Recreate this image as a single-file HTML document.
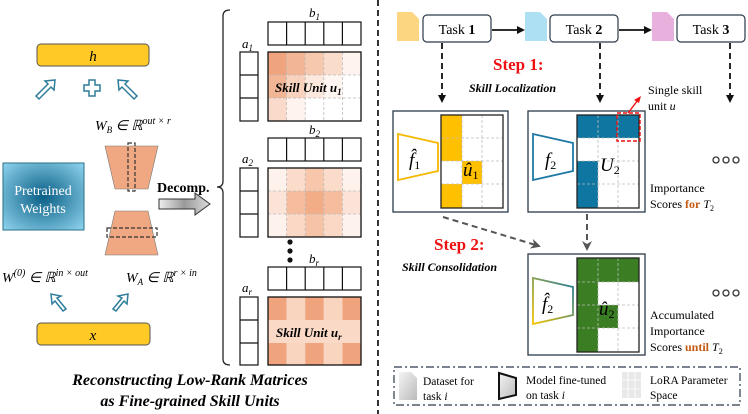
<!DOCTYPE html>
<html><head><meta charset="utf-8"><style>
html,body{margin:0;padding:0;background:#fff;}
svg{display:block;font-family:"Liberation Serif",serif;}
</style></head><body>
<svg width="748" height="414" viewBox="0 0 748 414" xmlns="http://www.w3.org/2000/svg">
<defs>
<radialGradient id="pt" cx="0.5" cy="0.5" r="0.7"><stop offset="0" stop-color="#0a5f86"/><stop offset="1" stop-color="#8fd4ee"/></radialGradient>
<linearGradient id="ga" x1="0" y1="0" x2="1" y2="0"><stop offset="0" stop-color="#eee"/><stop offset="0.5" stop-color="#999"/><stop offset="1" stop-color="#ddd"/></linearGradient>
<linearGradient id="gf" x1="0" y1="1" x2="1" y2="0"><stop offset="0" stop-color="#f5c400"/><stop offset="1" stop-color="#1a7aa0"/></linearGradient>
<linearGradient id="gl" x1="0" y1="0" x2="1" y2="1"><stop offset="0" stop-color="#f4f4f4"/><stop offset="1" stop-color="#bbb"/></linearGradient>
<marker id="ah" markerWidth="8" markerHeight="8" refX="6" refY="4" orient="auto" markerUnits="userSpaceOnUse"><path d="M0,0 L8,4 L0,8 Z" fill="#111"/></marker>
<marker id="ahg" markerWidth="10" markerHeight="10" refX="8" refY="5" orient="auto" markerUnits="userSpaceOnUse"><path d="M0,0 L10,5 L0,10 L3,5 Z" fill="#555"/></marker>
</defs>

<!-- LEFT PANEL -->
<rect x="37" y="44" width="112" height="22" rx="4" fill="#FFC926" stroke="#555" stroke-width="1"/>
<text x="93" y="61" font-size="15" font-style="italic" text-anchor="middle">h</text>
<g fill="#fff" stroke="#2E7D9A" stroke-width="1.5">
<path d="M38,98 L36,96 L48,84 L45,81 L55,80 L54,90 L51,87 L39,99 Z"/>
<path d="M135,98 L137,96 L125,84 L128,81 L118,80 L119,90 L122,87 L134,99 Z"/>
<path d="M84,85 h5 v-5 h6 v5 h5 v6 h-5 v5 h-6 v-5 h-5 Z"/>
<path d="M63,311 L66,309 L57,298 L61,296 L51,294 L52,304 L55,301 L63,311 Z"/>
<path d="M116,311 L113,309 L122,298 L118,296 L128,294 L127,304 L124,301 L116,311 Z"/>
</g>
<text x="95" y="130" font-size="14" font-style="italic">W<tspan font-size="9" dy="3">B</tspan><tspan dy="-3"> ∈ ℝ</tspan><tspan font-size="10" dy="-6">out × r</tspan></text>
<polygon points="105,146 158,146 148,189 115,189" fill="#F0A882" stroke="#777" stroke-width="0.6"/>
<rect x="128" y="143" width="7" height="48" fill="none" stroke="#333" stroke-dasharray="4,2" stroke-width="1.2"/>
<polygon points="115,211 148,211 158,255 105,255" fill="#F0A882" stroke="#777" stroke-width="0.6"/>
<rect x="107" y="228" width="50" height="9" fill="none" stroke="#333" stroke-dasharray="4,2" stroke-width="1.2"/>
<rect x="3" y="163" width="81" height="67" fill="url(#pt)" stroke="#2a6f8a" stroke-width="1"/>
<text x="43" y="195" font-size="14" fill="#fff" text-anchor="middle">Pretrained</text>
<text x="43" y="213" font-size="14" fill="#fff" text-anchor="middle">Weights</text>
<text x="157" y="192" font-size="14" font-weight="bold">Decomp.</text>
<path d="M159,199 h36 v-6 l15,11 l-15,11 v-6 h-36 Z" fill="url(#ga)" stroke="#333" stroke-width="1"/>
<path d="M230,10 q-7,0 -7,6 v165 q0,6 -6,6 q6,0 6,6 v166 q0,6 7,6" fill="none" stroke="#222" stroke-width="1.3"/>
<text x="2" y="282" font-size="14" font-style="italic">W<tspan font-size="10" dy="-6">(0)</tspan><tspan dy="6"> ∈ ℝ</tspan><tspan font-size="10" dy="-6">in × out</tspan></text>
<text x="126" y="282" font-size="14" font-style="italic">W<tspan font-size="9" dy="3">A</tspan><tspan dy="-3"> ∈ ℝ</tspan><tspan font-size="10" dy="-6">r × in</tspan></text>
<rect x="37" y="323" width="113" height="22" rx="4" fill="#FFC926" stroke="#555" stroke-width="1"/>
<text x="93" y="340" font-size="15" font-style="italic" text-anchor="middle">x</text>

<!-- matrices -->
<g stroke="#111" stroke-width="1.2" fill="#fff">
<rect x="268" y="22" width="93" height="23"/><line x1="286.6" y1="22" x2="286.6" y2="45"/><line x1="305.2" y1="22" x2="305.2" y2="45"/><line x1="323.8" y1="22" x2="323.8" y2="45"/><line x1="342.4" y1="22" x2="342.4" y2="45"/>
<rect x="240" y="52" width="18" height="69"/><line x1="240" y1="75" x2="258" y2="75"/><line x1="240" y1="98" x2="258" y2="98"/>
<rect x="268" y="138" width="93" height="23"/><line x1="286.6" y1="138" x2="286.6" y2="161"/><line x1="305.2" y1="138" x2="305.2" y2="161"/><line x1="323.8" y1="138" x2="323.8" y2="161"/><line x1="342.4" y1="138" x2="342.4" y2="161"/>
<rect x="240" y="168" width="18" height="69"/><line x1="240" y1="191" x2="258" y2="191"/><line x1="240" y1="214" x2="258" y2="214"/>
<rect x="268" y="267" width="93" height="23"/><line x1="286.6" y1="267" x2="286.6" y2="290"/><line x1="305.2" y1="267" x2="305.2" y2="290"/><line x1="323.8" y1="267" x2="323.8" y2="290"/><line x1="342.4" y1="267" x2="342.4" y2="290"/>
<rect x="240" y="297" width="18" height="68"/><line x1="240" y1="320" x2="258" y2="320"/><line x1="240" y1="343" x2="258" y2="343"/>
</g>
<g>
<rect x="268" y="52" width="18.6" height="23" fill="#EFA47E"/><rect x="286.6" y="52" width="18.6" height="23" fill="#F2B595"/><rect x="305.2" y="52" width="18.6" height="23" fill="#F6C8AE"/><rect x="323.8" y="52" width="18.6" height="23" fill="#FADCCB"/><rect x="342.4" y="52" width="18.6" height="23" fill="#FEF3EE"/>
<rect x="268" y="75" width="18.6" height="23" fill="#F2B595"/><rect x="286.6" y="75" width="18.6" height="23" fill="#F8D2BD"/><rect x="305.2" y="75" width="18.6" height="23" fill="#FCE8DD"/><rect x="323.8" y="75" width="18.6" height="23" fill="#FFF6F2"/><rect x="342.4" y="75" width="18.6" height="23" fill="#fff"/>
<rect x="268" y="98" width="18.6" height="23" fill="#FADBCB"/><rect x="286.6" y="98" width="18.6" height="23" fill="#FEF3EE"/><rect x="305.2" y="98" width="55.8" height="23" fill="#fff"/>
</g>
<g>
<rect x="268" y="168" width="18.6" height="23" fill="#FEF2EC"/><rect x="286.6" y="168" width="18.6" height="23" fill="#FBDCCB"/><rect x="305.2" y="168" width="18.6" height="23" fill="#F7C6AB"/><rect x="323.8" y="168" width="18.6" height="23" fill="#FBDCCB"/><rect x="342.4" y="168" width="18.6" height="23" fill="#FEF2EC"/>
<rect x="268" y="191" width="18.6" height="23" fill="#FBE4D7"/><rect x="286.6" y="191" width="18.6" height="23" fill="#F5BD9E"/><rect x="305.2" y="191" width="18.6" height="23" fill="#F2AC86"/><rect x="323.8" y="191" width="18.6" height="23" fill="#F5BD9E"/><rect x="342.4" y="191" width="18.6" height="23" fill="#FBE4D7"/>
<rect x="268" y="214" width="18.6" height="23" fill="#FEF2EC"/><rect x="286.6" y="214" width="18.6" height="23" fill="#FAD8C5"/><rect x="305.2" y="214" width="18.6" height="23" fill="#F6C3A6"/><rect x="323.8" y="214" width="18.6" height="23" fill="#FAD8C5"/><rect x="342.4" y="214" width="18.6" height="23" fill="#FEF2EC"/>
</g>
<g>
<rect x="268" y="297" width="18.6" height="23" fill="#EFA47E"/><rect x="286.6" y="297" width="18.6" height="23" fill="#F9D4BF"/><rect x="305.2" y="297" width="18.6" height="23" fill="#EFA47E"/><rect x="323.8" y="297" width="18.6" height="23" fill="#F9D4BF"/><rect x="342.4" y="297" width="18.6" height="23" fill="#EFA47E"/>
<rect x="268" y="320" width="93" height="23" fill="#FAD9C6"/>
<rect x="268" y="343" width="18.6" height="22" fill="#EFA47E"/><rect x="286.6" y="343" width="18.6" height="22" fill="#F9D4BF"/><rect x="305.2" y="343" width="18.6" height="22" fill="#EFA47E"/><rect x="323.8" y="343" width="18.6" height="22" fill="#F9D4BF"/><rect x="342.4" y="343" width="18.6" height="22" fill="#EFA47E"/>
</g>
<g stroke="#bbb" stroke-width="0.8" stroke-dasharray="3,2">
<line x1="286.6" y1="52" x2="286.6" y2="121"/><line x1="305.2" y1="52" x2="305.2" y2="121"/><line x1="323.8" y1="52" x2="323.8" y2="121"/><line x1="342.4" y1="52" x2="342.4" y2="121"/><line x1="268" y1="75" x2="361" y2="75"/><line x1="268" y1="98" x2="361" y2="98"/>
<line x1="286.6" y1="168" x2="286.6" y2="237"/><line x1="305.2" y1="168" x2="305.2" y2="237"/><line x1="323.8" y1="168" x2="323.8" y2="237"/><line x1="342.4" y1="168" x2="342.4" y2="237"/><line x1="268" y1="191" x2="361" y2="191"/><line x1="268" y1="214" x2="361" y2="214"/>
</g>
<g fill="none" stroke="#111" stroke-width="1.3">
<rect x="268" y="52" width="93" height="69"/><rect x="268" y="168" width="93" height="69"/><rect x="268" y="297" width="93" height="68"/>
</g>
<g font-size="13" font-style="italic" font-weight="bold">
<text x="275" y="92">Skill Unit u<tspan font-size="9" dy="3">1</tspan></text>
<text x="276" y="337">Skill Unit u<tspan font-size="9" dy="3">r</tspan></text>
</g>
<g font-size="13" font-style="italic">
<text x="309" y="17">b<tspan font-size="9" dy="3">1</tspan></text>
<text x="242" y="48">a<tspan font-size="9" dy="3">1</tspan></text>
<text x="309" y="134">b<tspan font-size="9" dy="3">2</tspan></text>
<text x="242" y="163">a<tspan font-size="9" dy="3">2</tspan></text>
<text x="309" y="263">b<tspan font-size="9" dy="3">r</tspan></text>
<text x="242" y="292">a<tspan font-size="9" dy="3">r</tspan></text>
</g>
<circle cx="290" cy="242" r="2.6" fill="#111"/><circle cx="290" cy="251" r="2.6" fill="#111"/><circle cx="290" cy="260" r="2.6" fill="#111"/>
<g font-size="16" font-style="italic" font-weight="bold" text-anchor="middle">
<text x="190" y="385">Reconstructing Low-Rank Matrices</text>
<text x="190" y="406">as Fine-grained Skill Units</text>
</g>
<line x1="378" y1="0" x2="378" y2="414" stroke="#333" stroke-width="2" stroke-dasharray="6,4"/>

<!-- RIGHT PANEL -->
<path d="M397,12 h15 l7,7 v22 h-22 Z" fill="#FCD680"/>
<path d="M525,12 h15 l7,7 v22 h-22 Z" fill="#AEE0F4"/>
<path d="M652,12 h15 l7,7 v22 h-22 Z" fill="#E8B0DC"/>
<g fill="#fff" stroke="#2b3a4a" stroke-width="1.2">
<rect x="423" y="15" width="68" height="27" rx="4"/><rect x="550" y="15" width="68" height="27" rx="4"/><rect x="677" y="15" width="68" height="27" rx="4"/>
</g>
<g font-size="14" text-anchor="middle">
<text x="457" y="34">Task <tspan font-weight="bold">1</tspan></text>
<text x="584" y="34">Task <tspan font-weight="bold">2</tspan></text>
<text x="711" y="34">Task <tspan font-weight="bold">3</tspan></text>
</g>
<g stroke="#111" stroke-width="1.8" marker-end="url(#ah)">
<line x1="492" y1="30" x2="523" y2="30"/><line x1="619" y1="30" x2="650" y2="30"/>
</g>
<g stroke="#111" stroke-width="1.8" stroke-dasharray="6,4" marker-end="url(#ah)">
<line x1="442" y1="43" x2="442" y2="101"/><line x1="600" y1="43" x2="600" y2="101"/><line x1="730" y1="43" x2="730" y2="101"/>
</g>
<text x="493" y="70" font-size="17" font-weight="bold" fill="#EE1111">Step 1:</text>
<text x="469" y="92" font-size="12" font-weight="bold" font-style="italic">Skill Localization</text>
<text x="648" y="94" font-size="12">Single skill</text>
<text x="648" y="110" font-size="12">unit <tspan font-style="italic">u</tspan></text>

<!-- box1 -->
<rect x="393" y="111" width="115" height="101" fill="#fff" stroke="#2b3a4a" stroke-width="1.3"/>
<rect x="441" y="115" width="21" height="46" fill="#FFC000"/><rect x="441" y="184" width="21" height="24" fill="#FFC000"/><rect x="462" y="161" width="20" height="23" fill="#FFC000"/>
<g stroke="#bbb" stroke-dasharray="3,2" stroke-width="0.8"><line x1="462" y1="115" x2="462" y2="208"/><line x1="482" y1="115" x2="482" y2="208"/><line x1="441" y1="138" x2="503" y2="138"/><line x1="441" y1="161" x2="503" y2="161"/><line x1="441" y1="184" x2="503" y2="184"/></g>
<rect x="441" y="115" width="62" height="93" fill="none" stroke="#222" stroke-width="1.3"/>
<polygon points="398,134 438,143 438,171 398,180" fill="#fff" stroke="#F5B800" stroke-width="1.8"/>
<text x="409" y="166" font-size="19" font-style="italic">f̂<tspan font-size="12" font-style="normal" dy="3">1</tspan></text>
<text x="463" y="176" font-size="19" font-style="italic">û<tspan font-size="12" font-style="normal" dy="3">1</tspan></text>

<!-- box2 -->
<rect x="528" y="111" width="117" height="101" fill="#fff" stroke="#2b3a4a" stroke-width="1.3"/>
<rect x="577" y="115" width="62" height="23" fill="#0E76A0"/><rect x="577" y="161" width="21" height="47" fill="#0E76A0"/>
<g stroke="#bbb" stroke-dasharray="3,2" stroke-width="0.8"><line x1="598" y1="115" x2="598" y2="208"/><line x1="618" y1="115" x2="618" y2="208"/><line x1="577" y1="138" x2="639" y2="138"/><line x1="577" y1="161" x2="639" y2="161"/><line x1="577" y1="184" x2="639" y2="184"/></g>
<rect x="577" y="115" width="62" height="93" fill="none" stroke="#222" stroke-width="1.3"/>
<rect x="617" y="113" width="23" height="28" fill="none" stroke="#EE1111" stroke-width="1.4" stroke-dasharray="4,2"/>
<line x1="628" y1="113" x2="638" y2="100" stroke="#EE1111" stroke-width="1.4"/><path d="M641,96 L634,100 L639,103 Z" fill="#EE1111"/>
<polygon points="533,134 573,143 573,171 533,180" fill="#fff" stroke="#1E7AA5" stroke-width="1.8"/>
<text x="545" y="166" font-size="19" font-style="italic">f<tspan font-size="12" font-style="normal" dy="3">2</tspan></text>
<text x="600" y="171" font-size="19" font-style="italic">U<tspan font-size="12" font-style="normal" dy="3">2</tspan></text>
<g fill="none" stroke="#333" stroke-width="1.3"><circle cx="716" cy="160" r="3"/><circle cx="726" cy="160" r="3"/><circle cx="736" cy="160" r="3"/></g>
<text x="650" y="192" font-size="12">Importance</text>
<text x="650" y="208" font-size="12">Scores <tspan fill="#C55A11" font-weight="bold">for</tspan> <tspan font-style="italic">T</tspan><tspan font-size="8" dy="3">2</tspan></text>

<!-- step2 -->
<line x1="443" y1="217" x2="539" y2="246" stroke="#555" stroke-width="2" stroke-dasharray="6,4" marker-end="url(#ahg)"/>
<line x1="587" y1="214" x2="587" y2="249" stroke="#555" stroke-width="2" stroke-dasharray="6,4" marker-end="url(#ahg)"/>
<text x="434" y="250" font-size="17" font-weight="bold" fill="#EE1111">Step 2:</text>
<text x="402" y="271" font-size="12" font-weight="bold" font-style="italic">Skill Consolidation</text>

<!-- box3 -->
<rect x="528" y="254" width="117" height="101" fill="#fff" stroke="#2b3a4a" stroke-width="1.3"/>
<rect x="577" y="258" width="62" height="24" fill="#3A7D22"/><rect x="577" y="258" width="21" height="94" fill="#3A7D22"/><rect x="598" y="305" width="20" height="23" fill="#3A7D22"/>
<g stroke="#bbb" stroke-dasharray="3,2" stroke-width="0.8"><line x1="598" y1="258" x2="598" y2="352"/><line x1="618" y1="258" x2="618" y2="352"/><line x1="577" y1="282" x2="639" y2="282"/><line x1="577" y1="305" x2="639" y2="305"/><line x1="577" y1="328" x2="639" y2="328"/></g>
<rect x="577" y="258" width="62" height="94" fill="none" stroke="#222" stroke-width="1.3"/>
<polygon points="533,278 573,287 573,315 533,324" fill="#fff" stroke="url(#gf)" stroke-width="1.8"/>
<text x="542" y="310" font-size="19" font-style="italic">f̂<tspan font-size="12" font-style="normal" dy="3">2</tspan></text>
<text x="599" y="315" font-size="19" font-style="italic">û<tspan font-size="12" font-style="normal" dy="3">2</tspan></text>
<g fill="none" stroke="#333" stroke-width="1.3"><circle cx="716" cy="293" r="3"/><circle cx="726" cy="293" r="3"/><circle cx="736" cy="293" r="3"/></g>
<text x="650" y="319" font-size="12">Accumulated</text>
<text x="650" y="335" font-size="12">Importance</text>
<text x="650" y="351" font-size="12">Scores <tspan fill="#C55A11" font-weight="bold">until</tspan> <tspan font-style="italic">T</tspan><tspan font-size="8" dy="3">2</tspan></text>

<!-- legend -->
<rect x="394" y="367" width="346" height="38" fill="none" stroke="#2b3a4a" stroke-width="1.2" stroke-dasharray="8,3,2,3"/>
<path d="M399,372 h12 l6,6 v22 h-18 Z" fill="url(#gl)"/>
<text x="423" y="385" font-size="11.5">Dataset for</text>
<text x="423" y="400" font-size="11.5">task <tspan font-style="italic">i</tspan></text>
<polygon points="499,373 516,378 516,395 499,399" fill="url(#gl)" stroke="#111" stroke-width="2"/>
<text x="526" y="384" font-size="11.5">Model fine-tuned</text>
<text x="526" y="399" font-size="11.5">on task <tspan font-style="italic">i</tspan></text>
<rect x="622" y="372" width="19" height="26" fill="#e8e8e8"/>
<g stroke="#fff" stroke-width="0.8"><line x1="628" y1="372" x2="628" y2="398"/><line x1="635" y1="372" x2="635" y2="398"/><line x1="622" y1="380" x2="641" y2="380"/><line x1="622" y1="389" x2="641" y2="389"/></g>
<text x="650" y="384" font-size="11.5">LoRA Parameter</text>
<text x="650" y="399" font-size="11.5">Space</text>
</svg>
</body></html>
